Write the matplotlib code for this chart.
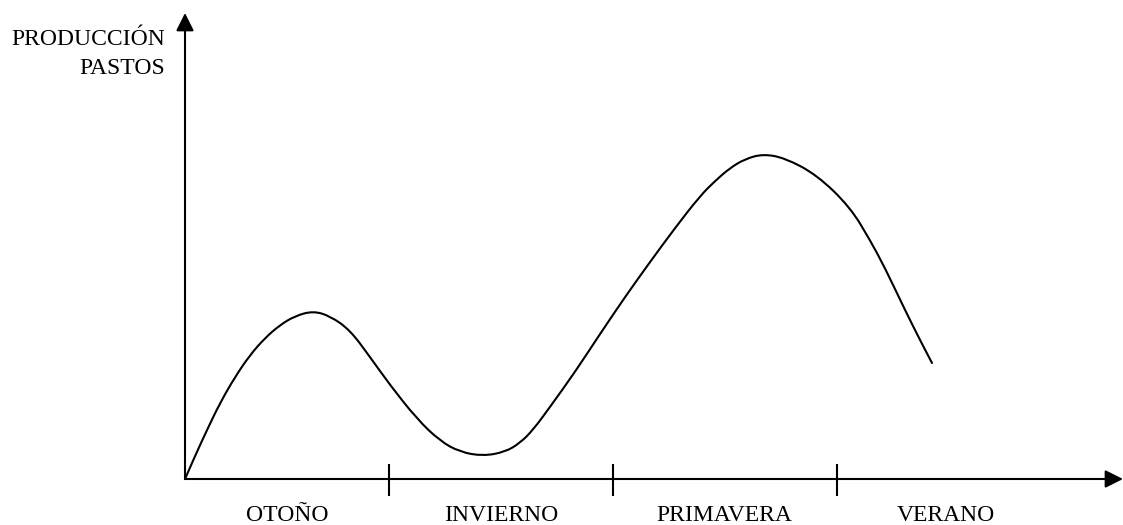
import matplotlib
matplotlib.use('Agg')
import matplotlib.pyplot as plt
from matplotlib.path import Path
from matplotlib.patches import PathPatch

# curve (x: time from start of autumn, y: pasture production)
x_vals = [0, 10, 22, 35, 50, 65, 80, 95, 110, 128, 145, 165, 185, 205, 232, 255,
          275, 298, 320, 335, 348, 365, 390, 415, 440, 465, 490, 515, 530, 545,
          560, 578, 600, 632, 665, 685, 700, 720, 735, 747]
y_vals = [0, 23, 49, 76, 102, 124, 141, 154, 163, 168, 163, 149, 122, 94, 60, 38,
          27, 23, 27, 36, 49, 72, 107, 145, 182, 217, 251, 283, 298, 311,
          320, 325, 321, 304, 272, 239, 211, 169, 139, 116]

seasons = ['OTOÑO', 'INVIERNO', 'PRIMAVERA', 'VERANO']
season_bounds = [204, 428, 652]
season_centres = [102, 316, 539, 761]

fig = plt.figure(figsize=(11.23, 5.25), dpi=100)
ax = fig.add_axes([0, 0, 1, 1])
ax.set_xlim(-185, 938)
ax.set_ylim(-46, 479)
ax.axis('off')

font = dict(family='Liberation Serif', fontsize=17, color='black')

# axes with arrow heads
ax.annotate('', xy=(0, 466), xytext=(0, 0),
            arrowprops=dict(arrowstyle='-|>', mutation_scale=27, lw=1.5,
                            color='black', shrinkA=0, shrinkB=0))
ax.annotate('', xy=(938, 0), xytext=(0, 0),
            arrowprops=dict(arrowstyle='-|>', mutation_scale=27, lw=1.5,
                            color='black', shrinkA=0, shrinkB=0))

ax.vlines(season_bounds, -17, 15, color='black', lw=1.5)

# smooth line: quadratic segments using the read points as control points
pts = list(zip(x_vals, y_vals))
verts = [pts[0]]
codes = [Path.MOVETO]
for i in range(1, len(pts) - 1):
    mid = ((pts[i][0] + pts[i + 1][0]) / 2, (pts[i][1] + pts[i + 1][1]) / 2)
    verts += [pts[i], mid]
    codes += [Path.CURVE3, Path.CURVE3]
verts.append(pts[-1])
codes.append(Path.LINETO)
ax.add_patch(PathPatch(Path(verts, codes), fill=False, lw=1.5, edgecolor='black',
                       capstyle='round', joinstyle='round'))

for name, xc in zip(seasons, season_centres):
    ax.text(xc, -42, name, ha='center', va='baseline', **font)

ax.text(-20, 434, 'PRODUCCIÓN', ha='right', va='baseline', **font)
ax.text(-20, 405, 'PASTOS', ha='right', va='baseline', **font)

fig.savefig('out.png', dpi=100, facecolor='white')
